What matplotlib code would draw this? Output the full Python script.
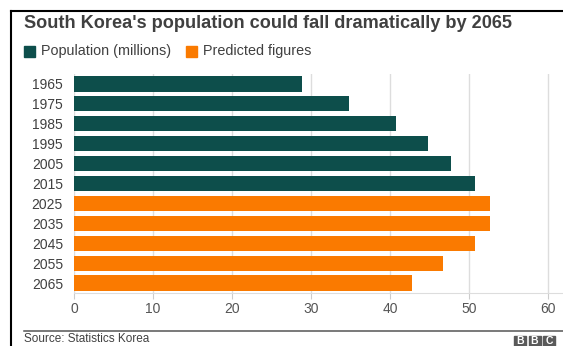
import matplotlib
matplotlib.use("Agg")
from matplotlib import pyplot as plt
from matplotlib.patches import Rectangle
from matplotlib.lines import Line2D

plt.rcParams['font.family'] = ['Liberation Sans', 'DejaVu Sans']

years = ["1965", "1975", "1985", "1995", "2005", "2015",
         "2025", "2035", "2045", "2055", "2065"]
population = [28.8, 34.8, 40.7, 44.8, 47.7, 50.7, 52.7, 52.7, 50.7, 46.7, 42.8]
predicted = [False] * 6 + [True] * 5
x_ticks = [0, 10, 20, 30, 40, 50, 60]

TEAL = "#0d4e4b"
ORANGE = "#fa7a00"
W, H = 563, 346

fig = plt.figure(figsize=(W / 100, H / 100), dpi=100)
ax = fig.add_axes([74 / W, 1 - 293 / H, 1 - 74 / W, (293 - 74) / H])

colors = [ORANGE if p else TEAL for p in predicted]
ax.barh(range(len(years)), population, height=0.76, color=colors, zorder=3)
ax.set_ylim(len(years) - 0.5, -0.5)
ax.set_yticks(range(len(years)))
ax.set_yticklabels(years)
ax.set_xlim(0, (W - 74) / 7.9)
ax.set_xticks(x_ticks)
ax.grid(axis="x", color="#dddddd", linewidth=1, zorder=0)

for s in ["top", "right", "left"]:
    ax.spines[s].set_visible(False)
ax.spines["bottom"].set_color("#dddddd")
ax.tick_params(axis="y", length=0, pad=8, labelsize=10, labelcolor="#404040")
ax.tick_params(axis="x", length=4.5, color="#cccccc", pad=2, labelsize=10, labelcolor="#555555")

# title and legend
fig.text(24 / W, 1 - 23 / H, "South Korea's population could fall dramatically by 2065",
         fontsize=13.1, fontweight="bold", color="#404040", va="center", ha="left")
fig.add_artist(Rectangle((24 / W, 1 - 57 / H), 11 / W, 11 / H, color=TEAL, transform=fig.transFigure))
fig.text(41 / W, 1 - 51.5 / H, "Population (millions)", fontsize=10.4, color="#404040", va="center")
fig.add_artist(Rectangle((186 / W, 1 - 57 / H), 11 / W, 11 / H, color=ORANGE, transform=fig.transFigure))
fig.text(203 / W, 1 - 51.5 / H, "Predicted figures", fontsize=10.4, color="#404040", va="center")

# footer
fig.add_artist(Line2D([24 / W, 1], [1 - 331 / H] * 2, color="#555555", linewidth=1.1,
                      transform=fig.transFigure))
fig.text(24 / W, 1.5 / H, "Source: Statistics Korea", fontsize=8.5, color="#404040", va="bottom")
for i, letter in enumerate("BBC"):
    x0 = 514 + i * 14.5
    fig.add_artist(Rectangle((x0 / W, 0), 12 / W, 10 / H, color="#5a5a5a", transform=fig.transFigure))
    fig.text((x0 + 6) / W, 4.5 / H, letter, fontsize=7.5, fontweight="bold", color="white",
             ha="center", va="center")

# screenshot frame
fig.add_artist(Line2D([10.5 / W, 10.5 / W], [0, 1 - 11 / H], color="black", linewidth=1.5,
                      transform=fig.transFigure))
fig.add_artist(Line2D([10.5 / W, 1], [1 - 11 / H] * 2, color="black", linewidth=1.5,
                      transform=fig.transFigure))

fig.savefig("out.png", dpi=100)
